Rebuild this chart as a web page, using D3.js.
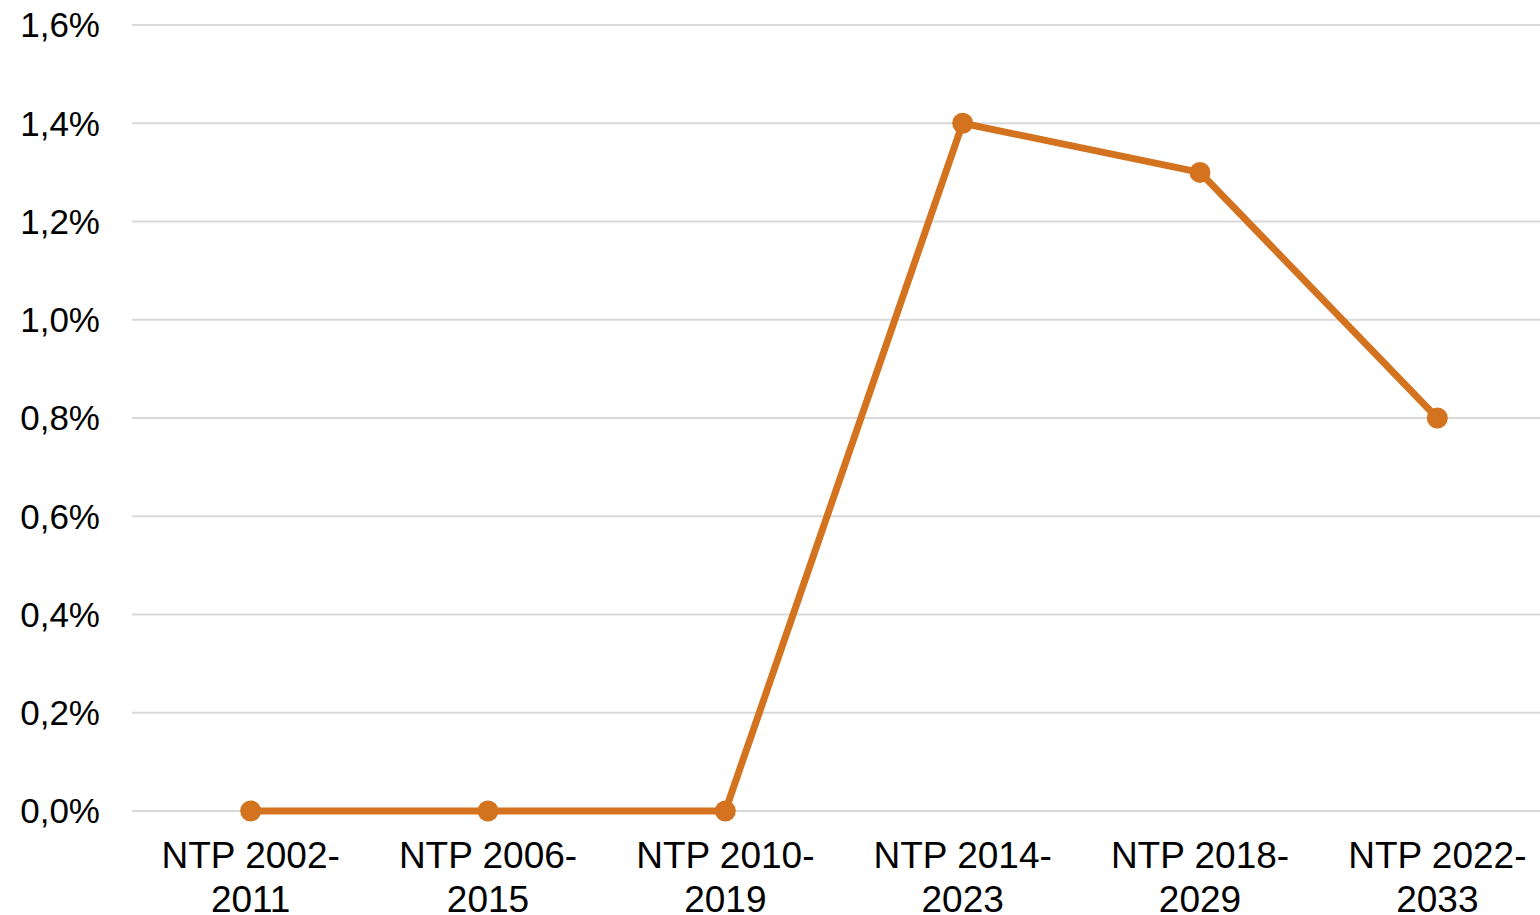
<!DOCTYPE html>
<html>
<head>
<meta charset="utf-8">
<script src="https://cdn.jsdelivr.net/npm/d3@7"></script>
<style>
  body { margin: 0; background: #fff; overflow: hidden; }
  text { font-family: "Liberation Sans", Arial, sans-serif; fill: #000; }
</style>
</head>
<body>
<svg id="chart"></svg>
<script>
// data
const categories = [
  ["NTP 2002-", "2011"],
  ["NTP 2006-", "2015"],
  ["NTP 2010-", "2019"],
  ["NTP 2014-", "2023"],
  ["NTP 2018-", "2029"],
  ["NTP 2022-", "2033"]
];
const values = [0.0, 0.0, 0.0, 1.4, 1.3, 0.8];
const yTicks = [0, 0.2, 0.4, 0.6, 0.8, 1.0, 1.2, 1.4, 1.6];

const width = 1540, height = 915;
const margin = { top: 25, left: 132, bottom: 104 };
const plotRight = 1556;

const svg = d3.select('#chart')
  .attr('width', width)
  .attr('height', height);

const x = d3.scaleBand()
  .domain(d3.range(categories.length))
  .range([margin.left, plotRight]);

const y = d3.scaleLinear()
  .domain([0, 1.6])
  .range([height - margin.bottom, margin.top]);

// gridlines
svg.append('g')
  .selectAll('line')
  .data(yTicks)
  .join('line')
    .attr('x1', margin.left)
    .attr('x2', plotRight)
    .attr('y1', d => y(d))
    .attr('y2', d => y(d))
    .style('stroke', '#d9d9d9')
    .style('stroke-width', 2);

// y labels
svg.append('g')
  .selectAll('text')
  .data(yTicks)
  .join('text')
    .attr('x', 100)
    .attr('y', d => y(d))
    .attr('dy', '0.35em')
    .attr('text-anchor', 'end')
    .style('font-size', '35px')
    .text(d => d.toFixed(1).replace('.', ',') + '%');

// x labels, two lines each (second line is cut by the bottom edge as in the original)
const xl = svg.append('g')
  .selectAll('text')
  .data(categories)
  .join('text')
    .attr('text-anchor', 'middle')
    .style('font-size', '37px');
xl.each(function(d, i) {
  const t = d3.select(this);
  const cx = x(i) + x.bandwidth() / 2;
  t.append('tspan').attr('x', cx).attr('y', 868).text(d[0]);
  t.append('tspan').attr('x', cx).attr('y', 912).text(d[1]);
});

// line
const line = d3.line()
  .x((d, i) => x(i) + x.bandwidth() / 2)
  .y(d => y(d));

svg.append('path')
  .datum(values)
  .attr('d', line)
  .style('fill', 'none')
  .style('stroke', '#d4731f')
  .style('stroke-width', 7)
  .style('stroke-linejoin', 'round');

svg.append('g')
  .selectAll('circle')
  .data(values)
  .join('circle')
    .attr('cx', (d, i) => x(i) + x.bandwidth() / 2)
    .attr('cy', d => y(d))
    .attr('r', 10.5)
    .style('fill', '#d4731f');
</script>
</body>
</html>
